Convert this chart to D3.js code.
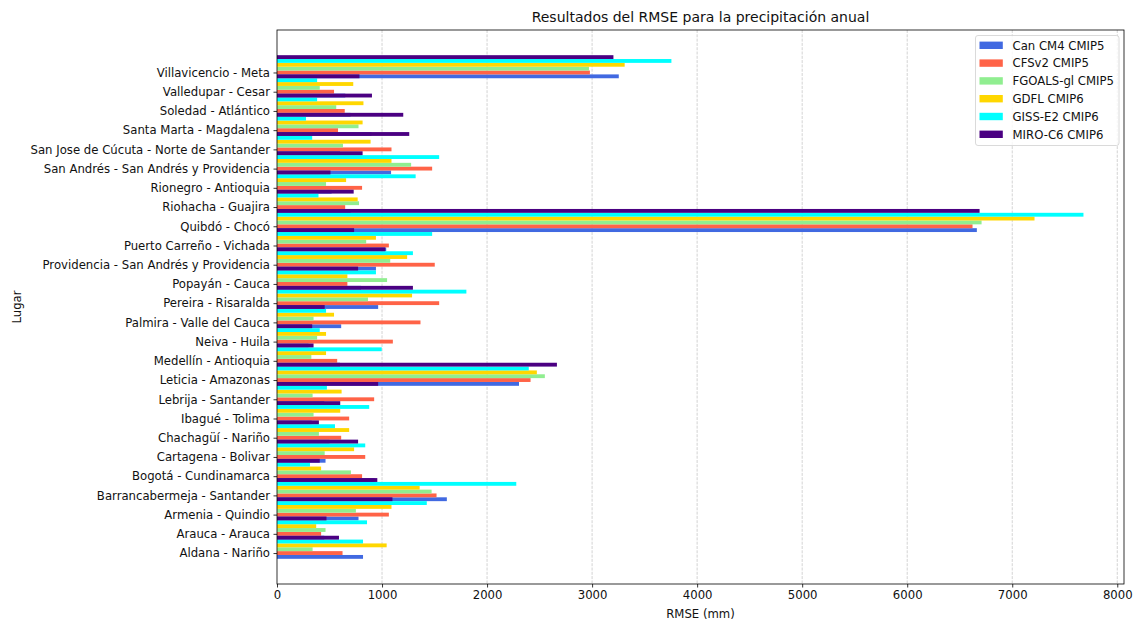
<!DOCTYPE html>
<html><head><meta charset="utf-8">
<script src="https://cdn.jsdelivr.net/npm/d3@7/dist/d3.min.js"></script>
<style>
body{margin:0;background:#fff;}
svg{display:block;font-family:"DejaVu Sans",sans-serif;}
</style></head>
<body><svg id="c" width="1134" height="622"></svg>
<script>
// Categories bottom → top
const categories = ["Aldana - Nariño","Arauca - Arauca","Armenia - Quindio","Barrancabermeja - Santander","Bogotá - Cundinamarca","Cartagena - Bolivar","Chachagüí - Nariño","Ibagué - Tolima","Lebrija - Santander","Leticia - Amazonas","Medellín - Antioquia","Neiva - Huila","Palmira - Valle del Cauca","Pereira - Risaralda","Popayán - Cauca","Providencia - San Andrés y Providencia","Puerto Carreño - Vichada","Quibdó - Chocó","Riohacha - Guajira","Rionegro - Antioquia","San Andrés - San Andrés y Providencia","San Jose de Cúcuta - Norte de Santander","Santa Marta - Magdalena","Soledad - Atlántico","Valledupar - Cesar","Villavicencio - Meta"];
const seriesNames = ["Can CM4 CMIP5","CFSv2 CMIP5","FGOALS-gl CMIP5","GDFL CMIP6","GISS-E2 CMIP6","MIRO-C6 CMIP6"];
const seriesColors = ["#4169E1","#FF6347","#90EE90","#FFD700","#00FFFF","#4B0082"];
const canCM4   = [819,450,776,1617,930,462,500,330,450,2304,600,300,611,963,800,942,1040,6663,700,520,1086,600,900,700,650,3254];
const cfsv2    = [624,420,1065,1519,810,840,611,687,925,2414,573,1103,1366,1544,670,1502,1065,6622,649,810,1477,1090,581,645,543,2979];
const fgoals   = [339,462,751,1472,704,454,399,348,339,2550,327,382,348,866,1048,1078,849,6708,781,467,1277,628,776,564,407,2970];
const gdfl     = [1044,373,1090,1358,420,734,687,602,615,2474,467,467,543,1286,670,1239,942,7212,768,658,1090,891,815,823,726,3310];
const gissE2   = [819,857,1426,2278,314,840,552,878,475,2397,997,407,467,1803,942,1294,1477,7678,395,1320,1544,335,276,382,382,3755];
const miroC6   = [590,471,1099,955,407,772,399,602,963,2665,348,335,454,1294,772,1031,734,6689,730,509,815,1259,1202,904,785,3203];
const seriesValues = [canCM4,cfsv2,fgoals,gdfl,gissE2,miroC6];
const xTicks = [0,1000,2000,3000,4000,5000,6000,7000,8000];
const barW = 0.2;

const svg = d3.select("#c");
const L=277,R=1124,T=30,B=584;
const FS = "11.7px";
const x = d3.scaleLinear().domain([0,8064]).range([L,R]);
const y = d3.scaleLinear().domain([-1.61,27.21]).range([B,T]);

// grid
svg.append("g").selectAll("line").data(xTicks.slice(1)).join("line")
  .attr("x1",d=>x(d)).attr("x2",d=>x(d)).attr("y1",T).attr("y2",B)
  .attr("stroke","#b0b0b0").attr("stroke-opacity",0.7).attr("stroke-width",0.8)
  .attr("stroke-dasharray","3,1.3");

// bars series by series
seriesValues.forEach((vals,i)=>{
  svg.append("g").attr("fill",seriesColors[i]).selectAll("rect")
    .data(vals.map((v,k)=>({v,k}))).join("rect")
    .attr("x",x(0))
    .attr("y",d=>y(d.k+(i-1)*barW+barW/2))
    .attr("width",d=>x(d.v)-x(0))
    .attr("height",d=>y(d.k+(i-1)*barW-barW/2)-y(d.k+(i-1)*barW+barW/2));
});

// axes
const xa = svg.append("g").attr("transform",`translate(0,${B})`)
  .call(d3.axisBottom(x).tickValues(xTicks).tickSize(3.5).tickPadding(3.5).tickFormat(d3.format("d")));
const ya = svg.append("g").attr("transform",`translate(${L},0)`)
  .call(d3.axisLeft(y).tickValues(d3.range(categories.length)).tickSize(3.5).tickPadding(3.5).tickFormat(k=>categories[k]));
[xa,ya].forEach(a=>{
  a.select(".domain").remove();
  a.selectAll("text").attr("font-size",FS).attr("fill","#111").attr("font-family","DejaVu Sans");
  a.selectAll("line").attr("stroke","#000").attr("stroke-width",0.8);
});
// frame
svg.append("rect").attr("x",L).attr("y",T).attr("width",R-L).attr("height",B-T)
  .attr("fill","none").attr("stroke","#000").attr("stroke-width",0.8);

// titles
svg.append("text").attr("x",(L+R)/2).attr("y",22).attr("text-anchor","middle").attr("fill","#111")
  .attr("font-size","14px").text("Resultados del RMSE para la precipitación anual");
svg.append("text").attr("x",(L+R)/2).attr("y",618).attr("text-anchor","middle").attr("fill","#111")
  .attr("font-size",FS).text("RMSE (mm)");
svg.append("text").attr("transform",`translate(20.5,${(T+B)/2}) rotate(-90)`).attr("text-anchor","middle").attr("fill","#111")
  .attr("font-size",FS).text("Lugar");

// legend
const lg = svg.append("g");
lg.append("rect").attr("x",975.5).attr("y",35.5).attr("width",143.5).attr("height",110)
  .attr("rx",2.5).attr("fill","#fff").attr("fill-opacity",0.8).attr("stroke","#d0d0d0").attr("stroke-width",0.8);
seriesNames.forEach((n,i)=>{
  const cy = 45.3 + i*17.8;
  lg.append("rect").attr("x",979.5).attr("y",cy-3.7).attr("width",23.3).attr("height",7.4).attr("fill",seriesColors[i]);
  lg.append("text").attr("x",1012.5).attr("y",cy+4.2).attr("font-size",FS).attr("fill","#111").text(n);
});
</script></body></html>
